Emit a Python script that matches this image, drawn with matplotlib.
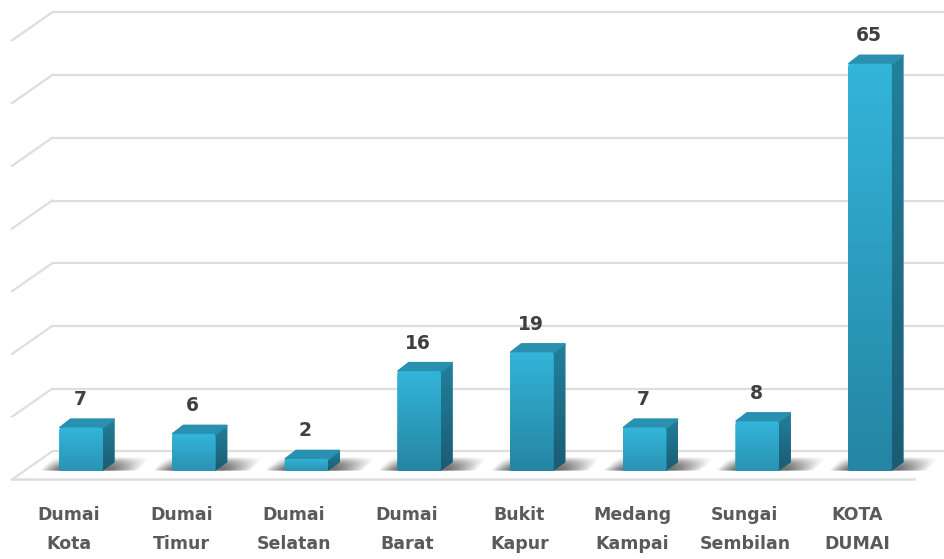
import numpy as np
import matplotlib
matplotlib.use('Agg')
import matplotlib.pyplot as plt
from matplotlib.colors import to_rgb
from matplotlib.patches import Polygon, FancyBboxPatch

categories = ['Dumai\nKota', 'Dumai\nTimur', 'Dumai\nSelatan', 'Dumai\nBarat',
              'Bukit\nKapur', 'Medang\nKampai', 'Sungai\nSembilan', 'KOTA\nDUMAI']
values = [7, 6, 2, 16, 19, 7, 8, 65]
grid_values = [0, 10, 20, 30, 40, 50, 60, 70]

# sizes of the fake 3d box, index units across and value units up
bar_w = 0.39
dx = 0.104
dy = 1.45
floor_front = -1.27
floor_back = 3.18
left_front = -0.612
left_back = -0.257
right_back = 7.66
right_front = 7.39

fig = plt.figure(figsize=(9.44, 5.59), dpi=100)
ax = fig.add_axes([0, 0, 1, 1])
xlim = (-0.719, 7.657)
ylim = (-13.96, 75.16)


def gradient(clip, ext, c1, c2, z):
    # fill a patch with a vertical gradient, c1 at the bottom and c2 at the top
    c1 = np.array(to_rgb(c1))
    c2 = np.array(to_rgb(c2))
    t = np.linspace(0, 1, 64)[:, None]
    img = (c1 + (c2 - c1) * t)[:, None, :]
    im = ax.imshow(img, extent=ext, origin='lower', aspect='auto', zorder=z,
                   interpolation='bilinear')
    ax.add_patch(clip)
    im.set_clip_path(clip)


def shadow(x0, x1):
    # soft grey shadow lying on the floor, strongest right under the bar
    xs = np.linspace(x0 - 0.17, x1 + 0.31, 160)
    ys = np.linspace(0, 2.2, 14)
    ramp = np.interp(xs, [x0 - 0.17, x0, x1 + 0.05, x1 + 0.31], [0, 0.62, 0.62, 0])
    for k in range(len(ys) - 1):
        skew = ys[k] / 2.2 * 0.12
        fade = 1 - (ys[k] / 2.2) ** 1.5
        img = np.zeros((1, len(xs), 4))
        img[..., :3] = 0.35
        img[..., 3] = ramp * fade
        ax.imshow(img, extent=[xs[0] + skew, xs[-1] + skew, ys[k], ys[k + 1]], origin='lower',
                  aspect='auto', zorder=3, interpolation='bilinear')


grid_color = '#dedede'
for g in grid_values:
    ax.plot([left_back, right_back], [g + floor_back, g + floor_back],
            color=grid_color, lw=1.6, zorder=1, solid_capstyle='butt')
    ax.plot([left_front, left_back], [g + floor_front, g + floor_back],
            color=grid_color, lw=1.6, zorder=1)
ax.plot([left_front, right_front], [floor_front, floor_front],
        color=grid_color, lw=1.8, zorder=1)

for i, v in enumerate(values):
    x0 = i - bar_w / 2
    x1 = i + bar_w / 2
    shadow(x0, x1)

    low = '#2585a3' if v > 15 else '#2a93b3'
    side = Polygon([[x1 - 0.01, 0], [x1 + dx, dy], [x1 + dx, v + dy], [x1 - 0.01, v]],
                   closed=True, fc='none', ec='none', zorder=4)
    gradient(side, [x1 - 0.01, x1 + dx, 0, v + dy], '#1a5c73', '#23809c', 4)
    ax.add_patch(Polygon([[x0 + 0.01, v], [x1, v], [x1 + dx - 0.008, v + dy - 0.15],
                          [x0 + dx, v + dy - 0.15]],
                         closed=True, fc='#2a90b0', ec='#2a90b0', lw=1.5,
                         joinstyle='round', zorder=4))
    front = FancyBboxPatch((x0, 0), bar_w, v, boxstyle='round,pad=0,rounding_size=0.03',
                           mutation_aspect=18, fc='none', ec='none', zorder=5)
    gradient(front, [x0, x1, 0, v], low, '#33b5da', 5)

    ax.text(i - 0.01, v + 4.46, str(v), ha='center', va='center', fontsize=13.5,
            fontweight='bold', color='#404040', zorder=6)
    ax.text(i - 0.11, -9.25, categories[i], ha='center', va='center', fontsize=12.5,
            fontweight='bold', color='#5a5a5a', linespacing=1.8)

ax.set_xlim(xlim)
ax.set_ylim(ylim)
ax.axis('off')
plt.savefig('out.png', dpi=100)
